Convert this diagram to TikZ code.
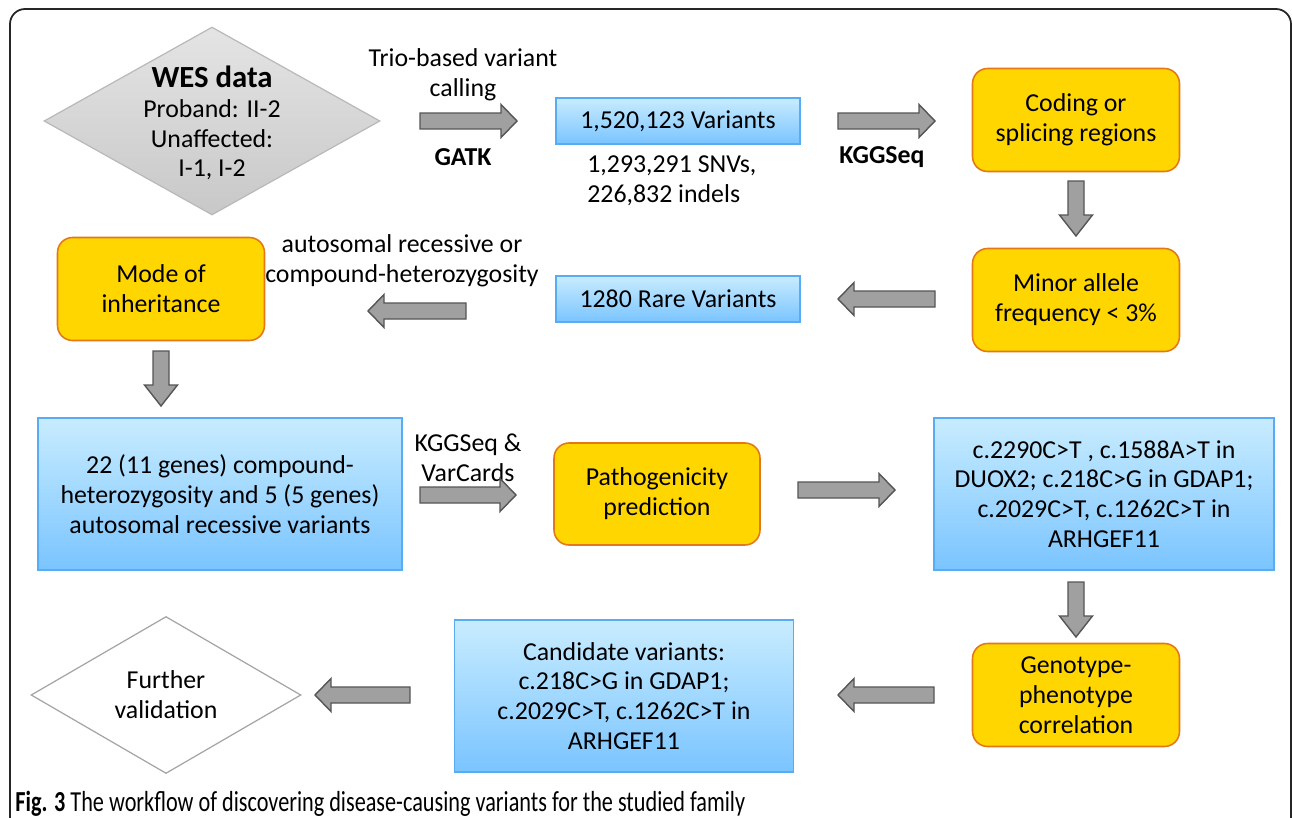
\documentclass[tikz,border=0pt]{standalone}
\usepackage{fontspec}
\setmainfont{Carlito}
\usetikzlibrary{calc,shapes.geometric}
\definecolor{gold}{RGB}{255,214,0}
\definecolor{goldborder}{RGB}{226,120,24}
\definecolor{bluetop}{RGB}{200,236,255}
\definecolor{bluebot}{RGB}{122,196,255}
\definecolor{blueborder}{RGB}{88,172,245}
\definecolor{arrfill}{RGB}{160,160,160}
\definecolor{arrdraw}{RGB}{85,85,85}
\definecolor{westop}{RGB}{228,228,228}
\definecolor{wesbot}{RGB}{200,200,200}
\definecolor{wesborder}{RGB}{185,185,185}
\definecolor{fvborder}{RGB}{165,165,165}
\newcommand\blockarrow[3][0.32cm]{%
  \path (#2) coordinate (ba-t) (#3) coordinate (ba-h);
  \path ($(ba-h)!#1!(ba-t)$) coordinate (ba-b);
  \draw[barrow] ($(ba-t)!0.16cm!90:(ba-h)$) -- ($(ba-b)!0.16cm!-90:(ba-t)$)
    -- ($(ba-b)!0.33cm!-90:(ba-t)$) -- (ba-h) -- ($(ba-b)!0.33cm!90:(ba-t)$)
    -- ($(ba-b)!0.16cm!90:(ba-t)$) -- ($(ba-t)!0.16cm!-90:(ba-h)$) -- cycle;
}
\begin{document}
\begin{tikzpicture}[x=0.02cm,y=-0.02cm,
  every node/.style={font=\fontsize{14.7}{17}\selectfont, text=black},
  barrow/.style={fill=arrfill, draw=arrdraw, line width=0.8pt, line join=miter},
  yel/.style={draw=goldborder, fill=gold, line width=0.9pt, rounded corners=0.3cm,
    minimum width=4.14cm, minimum height=2.06cm, align=center, inner sep=0pt},
  blu/.style={draw=blueborder, top color=bluetop, bottom color=bluebot, line width=0.7pt,
    align=center, inner sep=0pt},
  lbl/.style={align=center, inner sep=0pt},
  frame/.style={draw=black!85, line width=1pt, rounded corners=0.3cm}]
\useasboundingbox (0,0) rectangle (1292,818);
\begin{scope}
\clip (0,0) rectangle (1292,818);
\draw[frame] (10,860) -- (10,9) -- (1291,9) -- (1291,860);
\end{scope}

% row 1
\node[diamond, draw=wesborder, top color=westop, bottom color=wesbot, line width=0.7pt,
  minimum width=6.72cm, minimum height=3.76cm, inner sep=0pt] (wes) at (212,121) {};
\node[lbl] (westxt) at (212,123) {{\fontsize{17.5}{20}\selectfont\bfseries WES data}\\Proband: II-2\\Unaffected:\\I-1, I-2};
\coordinate (a1s) at (420,121); \coordinate (a1e) at (517,121);
\node[lbl] (trio) at (463,75) {Trio-based variant\\calling};
\node[lbl, font=\fontsize{14.7}{17}\selectfont\bfseries] (gatk) at (463,157) {GATK};
\node[blu, minimum width=4.88cm, minimum height=0.92cm] (v1) at (678,121) {1,520,123 Variants};
\node[lbl, align=left, anchor=west] (snv) at (587,181) {1,293,291 SNVs,\\226,832 indels};
\coordinate (a2s) at (838,121); \coordinate (a2e) at (935,121);
\node[lbl, font=\fontsize{14.7}{17}\selectfont\bfseries] (kgg) at (882,157) {KGGSeq};
\node[yel] (coding) at (1076,120) {Coding or\\splicing regions};

% row 2
\coordinate (d1s) at (1076,181); \coordinate (d1e) at (1076,236);
\node[yel] (maf) at (1076,300) {Minor allele\\frequency < 3\%};
\coordinate (a3s) at (935,299); \coordinate (a3e) at (838,299);
\node[blu, minimum width=4.88cm, minimum height=0.92cm] (rare) at (678,299) {1280 Rare Variants};
\coordinate (a4s) at (466,311); \coordinate (a4e) at (368,311);
\node[lbl] (auto) at (402,261) {autosomal recessive or\\compound-heterozygosity};
\node[yel] (mode) at (161,289) {Mode of\\inheritance};

% row 3
\coordinate (d2s) at (161,351); \coordinate (d2e) at (161,406);
\node[blu, minimum width=7.28cm, minimum height=3.04cm] (comp) at (220,494)
  {22 (11 genes) compound-\\heterozygosity and 5 (5 genes)\\autosomal recessive variants};
\coordinate (a5s) at (420,495); \coordinate (a5e) at (516,495);
\node[lbl] (kv) at (468,458) {KGGSeq \&\\VarCards};
\node[yel, minimum width=4.12cm, minimum height=2.04cm] (patho) at (657,494) {Pathogenicity\\prediction};
\coordinate (a6s) at (798,490); \coordinate (a6e) at (895,490);
\node[blu, minimum width=6.8cm, minimum height=3.04cm] (four) at (1104,494)
  {c.2290C>T , c.1588A>T in\\DUOX2; c.218C>G in GDAP1;\\c.2029C>T, c.1262C>T in\\ARHGEF11};

% row 4
\coordinate (d3s) at (1076,582); \coordinate (d3e) at (1076,637);
\node[yel] (geno) at (1076,695) {Genotype-\\phenotype\\correlation};
\coordinate (a7s) at (934,695); \coordinate (a7e) at (838,695);
\node[blu, minimum width=6.78cm, minimum height=3.04cm] (cand) at (624,696)
  {Candidate variants:\\c.218C>G in GDAP1;\\c.2029C>T, c.1262C>T in\\ARHGEF11};
\coordinate (a8s) at (410,695); \coordinate (a8e) at (315,695);
\node[diamond, draw=fvborder, fill=white, line width=0.7pt,
  minimum width=5.4cm, minimum height=3.14cm, inner sep=0pt] (fv) at (166,695) {};
\node[lbl] (fvtxt) at (fv) {Further\\validation};

\blockarrow{a1s}{a1e}
\blockarrow{a2s}{a2e}
\blockarrow[0.42cm]{d1s}{d1e}
\blockarrow{a3s}{a3e}
\blockarrow{a4s}{a4e}
\blockarrow[0.42cm]{d2s}{d2e}
\blockarrow{a5s}{a5e}
\blockarrow{a6s}{a6e}
\blockarrow[0.42cm]{d3s}{d3e}
\blockarrow{a7s}{a7e}
\blockarrow{a8s}{a8e}

\node[anchor=base west, inner sep=0pt, font=\fontsize{16.5}{18}\selectfont] (cap) at (15,811)
  {\resizebox{14.6cm}{\height}{\textbf{Fig. 3} The workflow of discovering disease-causing variants for the studied family}};
\end{tikzpicture}
\end{document}
